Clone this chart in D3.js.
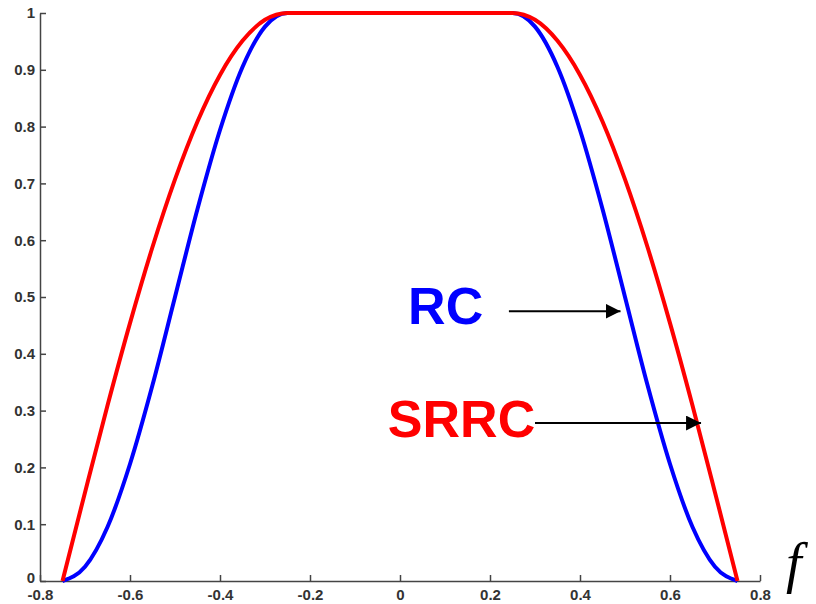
<!DOCTYPE html>
<html>
<head>
<meta charset="utf-8">
<script src="https://cdn.jsdelivr.net/npm/d3@7"></script>
<style>
  body { margin: 0; background: #fff; }
  svg { display: block; }
  .tick text { font-family: Arial, "Liberation Sans", sans-serif; font-size: 15px; font-weight: bold; fill: #333; }
</style>
</head>
<body>
<script>
// frequency samples
const freqs = [-0.75, -0.7, -0.65, -0.6, -0.55, -0.5, -0.45, -0.4, -0.35, -0.3, -0.25,
  -0.2, -0.15, -0.1, -0.05, 0, 0.05, 0.1, 0.15, 0.2,
  0.25, 0.3, 0.35, 0.4, 0.45, 0.5, 0.55, 0.6, 0.65, 0.7, 0.75];
const rcValues = [0, 0.025, 0.095, 0.206, 0.345, 0.5, 0.655, 0.794, 0.905, 0.976, 1,
  1, 1, 1, 1, 1, 1, 1, 1, 1,
  1, 0.976, 0.905, 0.794, 0.655, 0.5, 0.345, 0.206, 0.095, 0.025, 0];
const srrcValues = [0, 0.156, 0.309, 0.454, 0.588, 0.707, 0.809, 0.891, 0.951, 0.988, 1,
  1, 1, 1, 1, 1, 1, 1, 1, 1,
  1, 0.988, 0.951, 0.891, 0.809, 0.707, 0.588, 0.454, 0.309, 0.156, 0];
const xTicks = [-0.8, -0.6, -0.4, -0.2, 0, 0.2, 0.4, 0.6, 0.8];
const yTicks = [0, 0.1, 0.2, 0.3, 0.4, 0.5, 0.6, 0.7, 0.8, 0.9, 1];

const width = 816, height = 604;
const margin = {top: 13, right: 56, bottom: 23, left: 40};

const svg = d3.select(document.body).append('svg')
  .attr('width', width).attr('height', height);

const x = d3.scaleLinear().domain([-0.8, 0.8]).range([margin.left, width - margin.right]);
const y = d3.scaleLinear().domain([0, 1]).range([height - margin.bottom, margin.top]);

// axes, ticks pointing inward
const fmt = d => d3.format('')(d).replace('−', '-');
const xAxis = svg.append('g')
  .attr('transform', `translate(0,${y(0)})`)
  .call(d3.axisBottom(x).tickValues(xTicks).tickFormat(fmt).tickSizeInner(-6).tickSizeOuter(0).tickPadding(8));
const yAxis = svg.append('g')
  .attr('transform', `translate(${x(-0.8)},0)`)
  .call(d3.axisLeft(y).tickValues(yTicks).tickFormat(fmt).tickSizeInner(-6).tickSizeOuter(0).tickPadding(5));
[xAxis, yAxis].forEach(a => {
  a.select('.domain').attr('stroke', '#444').attr('stroke-width', 1.5);
  a.selectAll('.tick line').attr('stroke', '#444').attr('stroke-width', 1.5);
});
// the zero label sits a little above the corner
yAxis.selectAll('.tick text').filter(d => d === 0).attr('dy', '0.1em');

const line = d3.line().curve(d3.curveMonotoneX);

svg.append('path')
  .attr('d', line(freqs.map((f, i) => [x(f), y(rcValues[i])])))
  .attr('fill', 'none').attr('stroke', '#0000ff').attr('stroke-width', 4);
svg.append('path')
  .attr('d', line(freqs.map((f, i) => [x(f), y(srrcValues[i])])))
  .attr('fill', 'none').attr('stroke', '#ff0000').attr('stroke-width', 4);

// labels and arrows
const defs = svg.append('defs');
defs.append('marker').attr('id', 'arrow')
  .attr('viewBox', '0 0 10 10').attr('refX', 10).attr('refY', 5)
  .attr('markerWidth', 15).attr('markerHeight', 15).attr('markerUnits', 'userSpaceOnUse')
  .attr('orient', 'auto')
  .append('path').attr('d', 'M0,0L10,5L0,10Z').attr('fill', '#000');

svg.append('text').text('RC')
  .attr('x', x(0.018)).attr('y', y(0.452))
  .attr('font-family', 'Arial, "Liberation Sans", sans-serif').attr('font-weight', 'bold')
  .attr('font-size', 52).attr('fill', '#0000ff');
svg.append('line')
  .attr('x1', x(0.242)).attr('x2', x(0.49)).attr('y1', y(0.475)).attr('y2', y(0.475))
  .attr('stroke', '#000').attr('stroke-width', 2).attr('marker-end', 'url(#arrow)');

svg.append('text').text('SRRC')
  .attr('x', x(-0.027)).attr('y', y(0.254))
  .attr('font-family', 'Arial, "Liberation Sans", sans-serif').attr('font-weight', 'bold')
  .attr('font-size', 52).attr('fill', '#ff0000');
svg.append('line')
  .attr('x1', x(0.3)).attr('x2', x(0.669)).attr('y1', y(0.278)).attr('y2', y(0.278))
  .attr('stroke', '#000').attr('stroke-width', 2).attr('marker-end', 'url(#arrow)');

svg.append('text').text('f')
  .attr('x', x(0.8) + 26).attr('y', y(0) + 1)
  .attr('font-family', '"Liberation Serif", "Times New Roman", serif').attr('font-style', 'italic')
  .attr('font-size', 56).attr('fill', '#000');
</script>
</body>
</html>
